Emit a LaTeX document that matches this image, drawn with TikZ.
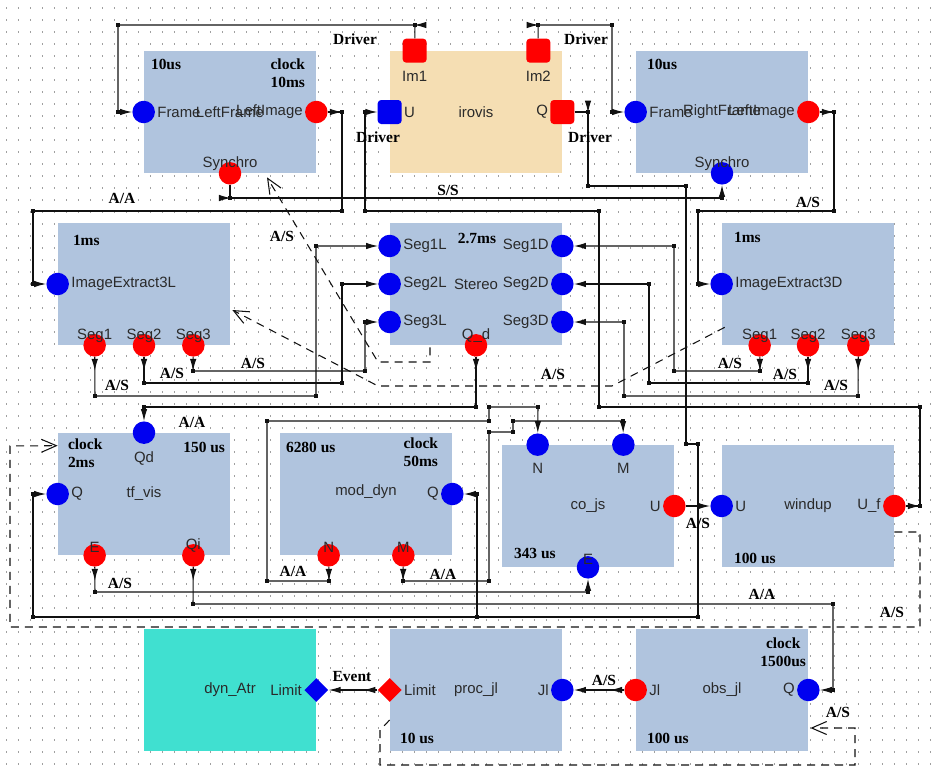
\documentclass[tikz,border=0pt]{standalone}
\usepackage{fontspec}
\setmainfont{Liberation Serif}
\setsansfont{Liberation Sans}
\usetikzlibrary{arrows.meta,positioning,shapes.geometric,decorations.markings}
\definecolor{blockblue}{HTML}{B0C4DE}
\definecolor{wheat1}{HTML}{F5DEB3}
\definecolor{turq1}{HTML}{40E0D0}
\definecolor{portred}{HTML}{FF0000}
\definecolor{portblue}{HTML}{0000F0}
\definecolor{dotgray}{HTML}{A0A0A0}
\definecolor{ink}{HTML}{111111}
\definecolor{labgray}{HTML}{2A2A2A}

\begin{document}
\begin{tikzpicture}[x=0.02cm,y=-0.02cm,
  block/.style={rectangle,fill=blockblue,minimum width=3.44cm,minimum height=2.44cm,inner sep=0pt,
                font=\sffamily\fontsize{8.5}{10}\selectfont,text=labgray},
  iport/.style={circle,fill=portblue,minimum size=0.45cm,inner sep=0pt},
  oport/.style={circle,fill=portred,minimum size=0.45cm,inner sep=0pt},
  isq/.style={rectangle,rounded corners=0.07cm,fill=portblue,minimum size=0.48cm,inner sep=0pt},
  osq/.style={rectangle,rounded corners=0.07cm,fill=portred,minimum size=0.48cm,inner sep=0pt},
  idia/.style={diamond,fill=portblue,minimum size=0.48cm,inner sep=0pt},
  odia/.style={diamond,fill=portred,minimum size=0.48cm,inner sep=0pt},
  plab/.style={font=\sffamily\fontsize{8.5}{10}\selectfont,text=labgray,inner sep=1pt},
  lup/.style={label={[plab,label distance=-0.22cm]above:#1}},
  ldn/.style={label={[plab,label distance=0.1cm]below:#1}},
  llt/.style={label={[plab]left:#1}},
  lrt/.style={label={[plab]right:#1}},
  tlab/.style={font=\bfseries\fontsize{8.8}{10}\selectfont,inner sep=0pt,align=left},
  wlab/.style={font=\bfseries\fontsize{8.8}{10}\selectfont,inner sep=0pt},
  link/.style={ink,line width=0.6pt,-{Latex[length=0.24cm,width=0.13cm]}},
  wire/.style={link,postaction={decorate},
    decoration={markings,mark=at position 0.28cm with {\arrow{Latex[length=0.24cm,width=0.13cm]}}}},
  prec/.style={ink,line width=0.6pt,dash pattern=on 0.16cm off 0.12cm,
    -{Straight Barb[length=0.3cm,width=0.26cm]}},
]
  \useasboundingbox (0,0) rectangle (935,774);
  % dotted grid of the editor
  \foreach \y in {8,20,...,770}
    \draw[dotgray,line width=0.7pt,dash pattern=on 0.02cm off 0.22cm] (6,\y) -- (935,\y);

  % blocks
  \node[block] (lf) at (230,112) {\raisebox{-3pt}{LeftFrame}};
  \node[block,fill=wheat1] (iro) at (476,112) {irovis};
  \node[block] (rf) at (722,112) {\raisebox{-3pt}{RightFrame}};
  \node[block] (ie3l) at (144,284) {};
  \node[block] (st) at (476,284) {Stereo};
  \node[block] (ie3d) at (808,284) {};
  \node[block] (tf) at (144,494) {tf\_vis};
  \node[block] (md) at (366,494) {\raisebox{5pt}{mod\_dyn}};
  \node[block] (cj) at (588,506) {co\_js};
  \node[block] (wu) at (808,506) {windup};
  \node[block,fill=turq1] (da) at (230,690) {dyn\_Atr};
  \node[block] (pj) at (476,690) {proc\_jl};
  \node[block] (oj) at (722,690) {obs\_jl};

  % timings and clocks
  \node[tlab,anchor=north west] (lf-t) at ([shift={(7,8)}]lf.north west) {10us};
  \node[tlab,anchor=north east] (lf-c) at ([shift={(-11,8)}]lf.north east) {clock\\10ms};
  \node[tlab,anchor=north west] (rf-t) at ([shift={(11,8)}]rf.north west) {10us};
  \node[tlab,anchor=north west] (ie3l-t) at ([shift={(15,12)}]ie3l.north west) {1ms};
  \node[tlab,anchor=north] (st-t) at ([shift={(1,10)}]st.north) {2.7ms};
  \node[tlab,anchor=north west] (ie3d-t) at ([shift={(12,9)}]ie3d.north west) {1ms};
  \node[tlab,anchor=north west] (tf-c) at ([shift={(10,6)}]tf.north west) {clock\\2ms};
  \node[tlab,anchor=north east] (tf-t) at ([shift={(-5,9)}]tf.north east) {150 us};
  \node[tlab,anchor=north west] (md-t) at ([shift={(6,9)}]md.north west) {6280 us};
  \node[tlab,anchor=north east] (md-c) at ([shift={(-14,5)}]md.north east) {clock\\50ms};
  \node[tlab,anchor=south west] (cj-t) at ([shift={(12,-8)}]cj.south west) {343 us};
  \node[tlab,anchor=south west] (wu-t) at ([shift={(12,-3)}]wu.south west) {100 us};
  \node[tlab,anchor=south west] (pj-t) at ([shift={(10,-7)}]pj.south west) {10 us};
  \node[tlab,anchor=north east,align=center] (oj-c) at ([shift={(-2,9)}]oj.north east) {clock\\1500us};
  \node[tlab,anchor=south west] (oj-t) at ([shift={(11,-7)}]oj.south west) {100 us};

  % ports
  \node[iport,lrt=Frame] (lf-frame) at (lf.west) {};
  \node[oport,llt=LeftImage] (lf-img) at (lf.east) {};
  \node[oport,lup=Synchro] (lf-sync) at (lf.south) {};
  \node[osq,label={[plab,label distance=0.12cm]below:Im1}] (iro-im1) at ([xshift=0.5cm]iro.north west) {};
  \node[osq,label={[plab,label distance=0.12cm]below:Im2}] (iro-im2) at ([xshift=-0.48cm]iro.north east) {};
  \node[isq,lrt=U] (iro-u) at (iro.west) {};
  \node[osq,llt=Q] (iro-q) at (iro.east) {};
  \node[iport,lrt=Frame] (rf-frame) at (rf.west) {};
  \node[oport,llt=LeftImage] (rf-img) at (rf.east) {};
  \node[iport,lup=Synchro] (rf-sync) at (rf.south) {};

  \node[iport,lrt=ImageExtract3L] (ie3l-in) at (ie3l.west) {};
  \node[oport,lup=Seg1] (ie3l-s1) at ([xshift=0.74cm]ie3l.south west) {};
  \node[oport,lup=Seg2] (ie3l-s2) at (ie3l.south) {};
  \node[oport,lup=Seg3] (ie3l-s3) at ([xshift=-0.74cm]ie3l.south east) {};
  \node[iport,lrt=Seg1L] (st-s1l) at ([shift={(0,-38)}]st.west) {};
  \node[iport,lrt=Seg2L] (st-s2l) at (st.west) {};
  \node[iport,lrt=Seg3L] (st-s3l) at ([shift={(0,38)}]st.west) {};
  \node[iport,llt=Seg1D] (st-s1d) at ([shift={(0,-38)}]st.east) {};
  \node[iport,llt=Seg2D] (st-s2d) at (st.east) {};
  \node[iport,llt=Seg3D] (st-s3d) at ([shift={(0,38)}]st.east) {};
  \node[oport,lup=Q\_d] (st-qd) at (st.south) {};
  \node[iport,lrt=ImageExtract3D] (ie3d-in) at (ie3d.west) {};
  \node[oport,lup=Seg1] (ie3d-s1) at ([xshift=0.76cm]ie3d.south west) {};
  \node[oport,lup=Seg2] (ie3d-s2) at (ie3d.south) {};
  \node[oport,lup=Seg3] (ie3d-s3) at ([xshift=-0.72cm]ie3d.south east) {};

  \node[iport,ldn=Qd] (tf-qd) at (tf.north) {};
  \node[iport,lrt=Q] (tf-q) at (tf.west) {};
  \node[oport,lup=E] (tf-e) at ([xshift=0.74cm]tf.south west) {};
  \node[oport,lup=Qi] (tf-qi) at ([xshift=-0.74cm]tf.south east) {};
  \node[iport,llt=Q] (md-q) at (md.east) {};
  \node[oport,lup=N] (md-n) at ([xshift=0.98cm]md.south west) {};
  \node[oport,lup=M] (md-m) at ([xshift=-0.98cm]md.south east) {};
  \node[iport,ldn=N] (cj-n) at ([xshift=0.72cm]cj.north west) {};
  \node[iport,ldn=M] (cj-m) at ([xshift=-1.02cm]cj.north east) {};
  \node[oport,llt=U] (cj-u) at (cj.east) {};
  \node[iport,lup=E] (cj-e) at (cj.south) {};
  \node[iport,lrt=U] (wu-u) at (wu.west) {};
  \node[oport,llt=U\_f] (wu-uf) at (wu.east) {};

  \node[idia,llt=Limit] (da-lim) at (da.east) {};
  \node[odia,lrt=Limit] (pj-lim) at (pj.west) {};
  \node[iport,llt=Jl] (pj-jl) at (pj.east) {};
  \node[oport,lrt=Jl] (oj-jl) at (oj.west) {};
  \node[iport,llt=Q] (oj-q) at (oj.east) {};

  % data links
  \draw[wire] (iro-im1) -- (415,25) -- (118,25) -- (118,112) -- (lf-frame);
  \draw[wire] (iro-im2) -- (538,25) -- (612,25) -- (612,112) -- (rf-frame);
  \draw[wire] (lf-img) -- (342,112) -- (342,211) -- (33,211) -- (33,284) -- (ie3l-in);
  \draw[wire] (wu-uf) -- (920,506) -- (920,407) -- (599,407) -- (599,211) -- (365,211) -- (365,112) -- (iro-u);
  \draw[wire] (iro-q) -- (588,112) -- (588,186) -- (686,186) -- (686,444) -- (698,444) -- (698,617)
              -- (33,617) -- (33,494) -- (tf-q);
  \coordinate (qsplit) at (477,617);
  \draw[link] (qsplit) -- (477,494) -- (md-q);
  \draw[wire] (lf-sync) -- (230,198) -- (722,198) -- (rf-sync);
  \draw[wire] (rf-img) -- (834,112) -- (834,211) -- (698,211) -- (698,284) -- (ie3d-in);
  \draw[wire] (ie3l-s1) -- (95,396) -- (316,396) -- (316,246) -- (st-s1l);
  \draw[wire] (ie3l-s2) -- (144,383) -- (342,383) -- (342,284) -- (st-s2l);
  \draw[wire] (ie3l-s3) -- (193,371) -- (365,371) -- (365,322) -- (st-s3l);
  \draw[wire] (ie3d-s1) -- (760,371) -- (674,371) -- (674,246) -- (st-s1d);
  \draw[wire] (ie3d-s2) -- (808,383) -- (649,383) -- (649,284) -- (st-s2d);
  \draw[wire] (ie3d-s3) -- (858,396) -- (624,396) -- (624,322) -- (st-s3d);
  \draw[wire] (st-qd) -- (476,407) -- (144,407) -- (tf-qd);
  \draw[wire] (tf-e) -- (95,592) -- (588,592) -- (cj-e);
  \draw[wire] (tf-qi) -- (193,604) -- (833,604) -- (833,690) -- (oj-q);
  \draw[wire] (md-n) -- (329,581) -- (267,581) -- (267,421) -- (489,421) -- (489,407) -- (538,407) -- (cj-n);
  \draw[wire] (md-m) -- (403,581) -- (489,581) -- (489,432) -- (513,432) -- (513,421) -- (623,421) -- (cj-m);
  \draw[link] (cj-u) -- (wu-u);
  \draw[wire] (oj-jl) -- (pj-jl);
  \draw[wire] (pj-lim) -- (da-lim);

  % junction marks
  \foreach \p in {(415,25),(118,25),(118,112),(538,25),(612,25),(612,112),
      (342,112),(342,211),(33,211),(33,284),(920,506),(920,407),(599,407),(599,211),(365,211),(365,112),
      (588,112),(588,186),(686,186),(686,444),(698,444),(698,617),(33,617),(33,494),(477,617),(477,494),
      (230,198),(722,198),(834,112),(834,211),(698,211),(698,284),
      (95,396),(316,396),(316,246),(144,383),(342,383),(342,284),(193,371),(365,371),(365,322),
      (760,371),(674,371),(674,246),(808,383),(649,383),(649,284),(858,396),(624,396),(624,322),
      (476,407),(144,407),(95,592),(588,592),(193,604),(833,604),(833,690),
      (329,581),(267,581),(267,421),(489,421),(489,407),(538,407),
      (403,581),(489,581),(489,432),(513,432),(513,421),(623,421)}
    \fill[ink] \p ++(-2,-2) rectangle ++(4,4);

  % precedences
  \draw[prec] ([shift={(-46,2)}]st.south) -- (430,362) -- (378,362) -- ([shift={(37,4)}]lf.south);
  \draw[prec] ([shift={(3,-18)}]ie3d.south west) -- (612,386) -- (378,386) -- ([shift={(2,26)}]ie3l.east);
  \draw[prec] ([shift={(0,26)}]wu.east) -- (920,532) -- (920,627) -- (10,627) -- (10,446)
              -- ([shift={(0,13)}]tf.north west);
  \draw[prec] ([shift={(0,30)}]pj.west) -- (380,730) -- (380,765) -- (855,765) -- (855,728)
              -- ([shift={(2,38)}]oj.east);

  % link labels
  \foreach \x/\y [count=\i] in {808/202,282/236,553/374,117/385,172/373,253/363,730/363,785/374,
      836/385,120/583,698/523,892/612,604/680,838/712}
    \node[wlab] (as\i) at (\x,\y) {A/S};
  \foreach \x/\y [count=\i] in {122/198,192/422,293/571,443/574,762/594}
    \node[wlab] (aa\i) at (\x,\y) {A/A};
  \foreach \x/\y [count=\i] in {355/39,586/39,378/137,590/137}
    \node[wlab] (drv\i) at (\x,\y) {Driver};
  \node[wlab] (ss) at (448,190) {S/S};
  \node[wlab] (ev) at (352,676) {Event};
\end{tikzpicture}
\end{document}
